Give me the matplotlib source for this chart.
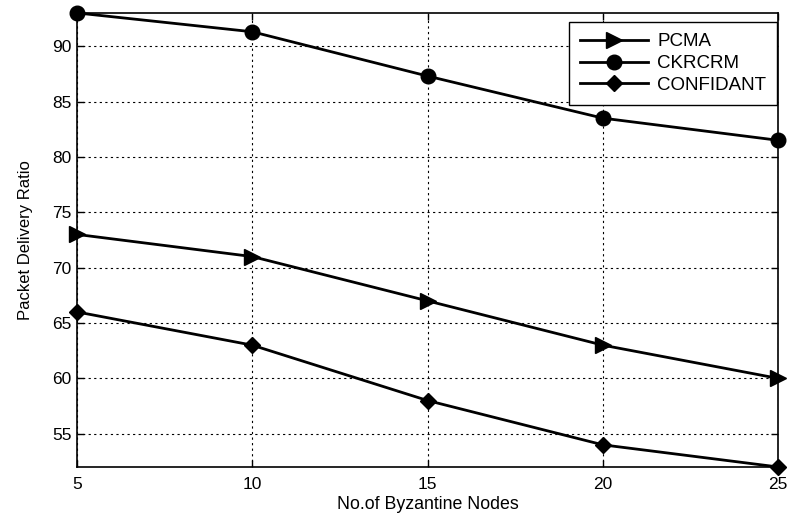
import matplotlib.pyplot as plt

plt.rcParams["font.family"] = ["Liberation Sans", "DejaVu Sans"]

byzantine_nodes = [5, 10, 15, 20, 25]
pcma = [73, 71, 67, 63, 60]
ckrcrm = [93, 91.3, 87.3, 83.5, 81.5]
confidant = [66, 63, 58, 54, 52]

x_ticks = [5, 10, 15, 20, 25]
y_ticks = [55, 60, 65, 70, 75, 80, 85, 90]

fig = plt.figure(figsize=(7.9, 5.18), dpi=100)
ax = fig.add_axes([0.0975, 0.0985, 0.8875, 0.8765])

ax.plot(byzantine_nodes, pcma, color="black", linewidth=2, marker=">",
        markersize=12, label="PCMA", clip_on=False, zorder=3)
ax.plot(byzantine_nodes, ckrcrm, color="black", linewidth=2, marker="o",
        markersize=10.5, label="CKRCRM", clip_on=False, zorder=3)
ax.plot(byzantine_nodes, confidant, color="black", linewidth=2, marker="D",
        markersize=8.5, label="CONFIDANT", clip_on=False, zorder=3)

ax.set_xlim(5, 25)
ax.set_ylim(52, 93)
ax.set_xticks(x_ticks)
ax.set_yticks(y_ticks)
ax.grid(True, color="black", linestyle=(0, (2, 3)), linewidth=0.8)
ax.tick_params(direction="in", top=True, right=True, labelsize=12.5,
               length=5, width=1)
ax.tick_params(axis="y", pad=4)
ax.tick_params(axis="x", pad=7)
for side in ax.spines.values():
    side.set_linewidth(1.2)

ax.set_xlabel("No.of Byzantine Nodes", fontsize=12.8, labelpad=3)
ax.set_ylabel("Packet Delivery Ratio", fontsize=12, labelpad=14)

leg = ax.legend(loc="upper right", bbox_to_anchor=(0.999, 0.98),
                borderaxespad=0, fontsize=13.5, fancybox=False,
                edgecolor="black", framealpha=1, handlelength=3.6,
                handletextpad=0.5, borderpad=0.6, labelspacing=0.25)
leg.get_frame().set_linewidth(1)

fig.savefig("out.png", dpi=100)
